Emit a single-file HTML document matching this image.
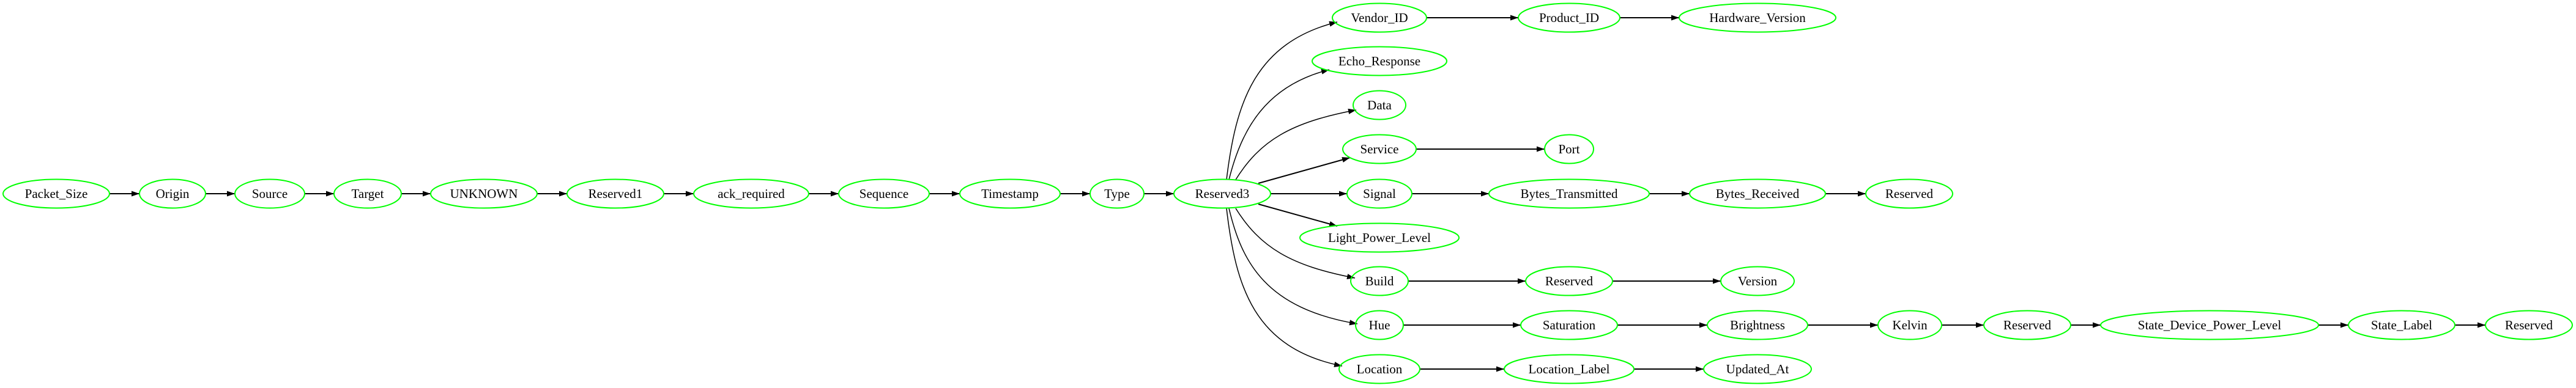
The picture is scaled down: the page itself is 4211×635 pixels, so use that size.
<!DOCTYPE html>
<html><head><meta charset="utf-8"><style>
html,body{margin:0;padding:0;background:#fff;}
svg{display:block;}
text{font-family:"Liberation Serif",serif;font-size:21px;fill:#000;text-anchor:middle;}
ellipse{fill:none;stroke:#00ff00;stroke-width:2;}
.e{fill:none;stroke:#000;stroke-width:2;}
.c{stroke-width:1.5;}
</style></head><body>
<svg width="4211" height="635" viewBox="0 0 4211 635" xmlns="http://www.w3.org/2000/svg">
<defs><marker id="a" viewBox="0 0 10 7" markerWidth="13" markerHeight="9.6" refX="10" refY="3.5" orient="auto" markerUnits="userSpaceOnUse"><path d="M0,0 L10,3.5 L0,7 z" fill="#000"/></marker></defs>
<g class="edges">
<path class="e" marker-end="url(#a)" d="M179,317H228"/>
<path class="e" marker-end="url(#a)" d="M336,317H384"/>
<path class="e" marker-end="url(#a)" d="M498,317H546"/>
<path class="e" marker-end="url(#a)" d="M656,317H704"/>
<path class="e" marker-end="url(#a)" d="M878,317H927"/>
<path class="e" marker-end="url(#a)" d="M1085,317H1134"/>
<path class="e" marker-end="url(#a)" d="M1322,317H1371"/>
<path class="e" marker-end="url(#a)" d="M1519,317H1569"/>
<path class="e" marker-end="url(#a)" d="M1733,317H1782"/>
<path class="e" marker-end="url(#a)" d="M1870,317H1919"/>
<path class="e" marker-end="url(#a)" d="M2077,317H2202"/>
<path class="e" marker-end="url(#a)" d="M2332,29H2482"/>
<path class="e" marker-end="url(#a)" d="M2648,29H2745"/>
<path class="e" marker-end="url(#a)" d="M2315,244H2525"/>
<path class="e" marker-end="url(#a)" d="M2308,317H2434"/>
<path class="e" marker-end="url(#a)" d="M2696,317H2762"/>
<path class="e" marker-end="url(#a)" d="M2984,317H3050"/>
<path class="e" marker-end="url(#a)" d="M2302,460H2494"/>
<path class="e" marker-end="url(#a)" d="M2636,460H2813"/>
<path class="e" marker-end="url(#a)" d="M2294,532H2486"/>
<path class="e" marker-end="url(#a)" d="M2644,532H2791"/>
<path class="e" marker-end="url(#a)" d="M2955,532H3070"/>
<path class="e" marker-end="url(#a)" d="M3174,532H3243"/>
<path class="e" marker-end="url(#a)" d="M3385,532H3434"/>
<path class="e" marker-end="url(#a)" d="M3790,532H3839"/>
<path class="e" marker-end="url(#a)" d="M4013,532H4063"/>
<path class="e" marker-end="url(#a)" d="M2321,604H2459"/>
<path class="e" marker-end="url(#a)" d="M2671,604H2785"/>
<path class="e c" marker-end="url(#a)" d="M2005,294 C2020,170 2050,70 2186,36"/>
<path class="e c" marker-end="url(#a)" d="M2009,294 C2030,210 2070,140 2173,114"/>
<path class="e c" marker-end="url(#a)" d="M2020,294 C2060,230 2110,200 2217,180"/>
<path class="e" marker-end="url(#a)" d="M2057,300 L2207,258"/>
<path class="e" marker-end="url(#a)" d="M2057,334 L2186,370"/>
<path class="e c" marker-end="url(#a)" d="M2020,341 C2060,405 2110,435 2215,455"/>
<path class="e c" marker-end="url(#a)" d="M2009,341 C2030,430 2070,505 2219,530"/>
<path class="e c" marker-end="url(#a)" d="M2005,341 C2020,470 2050,570 2194,599"/>
</g>
<g>
<ellipse cx="92" cy="317" rx="87" ry="23.5"/><text x="92" y="324">Packet_Size</text>
<ellipse cx="282" cy="317" rx="54" ry="23.5"/><text x="282" y="324">Origin</text>
<ellipse cx="441" cy="317" rx="57" ry="23.5"/><text x="441" y="324">Source</text>
<ellipse cx="601" cy="317" rx="55" ry="23.5"/><text x="601" y="324">Target</text>
<ellipse cx="791" cy="317" rx="87" ry="23.5"/><text x="791" y="324">UNKNOWN</text>
<ellipse cx="1006" cy="317" rx="79" ry="23.5"/><text x="1006" y="324">Reserved1</text>
<ellipse cx="1228" cy="317" rx="94" ry="23.5"/><text x="1228" y="324">ack_required</text>
<ellipse cx="1445" cy="317" rx="74" ry="23.5"/><text x="1445" y="324">Sequence</text>
<ellipse cx="1651" cy="317" rx="82" ry="23.5"/><text x="1651" y="324">Timestamp</text>
<ellipse cx="1826" cy="317" rx="44" ry="23.5"/><text x="1826" y="324">Type</text>
<ellipse cx="1998" cy="317" rx="79" ry="23.5"/><text x="1998" y="324">Reserved3</text>
<ellipse cx="2255" cy="29" rx="77" ry="23.5"/><text x="2255" y="36">Vendor_ID</text>
<ellipse cx="2255" cy="100" rx="110" ry="23.5"/><text x="2255" y="107">Echo_Response</text>
<ellipse cx="2255" cy="172" rx="43" ry="23.5"/><text x="2255" y="179">Data</text>
<ellipse cx="2255" cy="244" rx="60" ry="23.5"/><text x="2255" y="251">Service</text>
<ellipse cx="2255" cy="317" rx="53" ry="23.5"/><text x="2255" y="324">Signal</text>
<ellipse cx="2255" cy="389" rx="130" ry="23.5"/><text x="2255" y="396">Light_Power_Level</text>
<ellipse cx="2255" cy="460" rx="47" ry="23.5"/><text x="2255" y="467">Build</text>
<ellipse cx="2255" cy="532" rx="39" ry="23.5"/><text x="2255" y="539">Hue</text>
<ellipse cx="2255" cy="604" rx="66" ry="23.5"/><text x="2255" y="611">Location</text>
<ellipse cx="2565" cy="29" rx="83" ry="23.5"/><text x="2565" y="36">Product_ID</text>
<ellipse cx="2873" cy="29" rx="128" ry="23.5"/><text x="2873" y="36">Hardware_Version</text>
<ellipse cx="2565" cy="244" rx="40" ry="23.5"/><text x="2565" y="251">Port</text>
<ellipse cx="2565" cy="317" rx="131" ry="23.5"/><text x="2565" y="324">Bytes_Transmitted</text>
<ellipse cx="2873" cy="317" rx="111" ry="23.5"/><text x="2873" y="324">Bytes_Received</text>
<ellipse cx="3121" cy="317" rx="71" ry="23.5"/><text x="3121" y="324">Reserved</text>
<ellipse cx="2565" cy="460" rx="71" ry="23.5"/><text x="2565" y="467">Reserved</text>
<ellipse cx="2873" cy="460" rx="60" ry="23.5"/><text x="2873" y="467">Version</text>
<ellipse cx="2565" cy="532" rx="79" ry="23.5"/><text x="2565" y="539">Saturation</text>
<ellipse cx="2873" cy="532" rx="82" ry="23.5"/><text x="2873" y="539">Brightness</text>
<ellipse cx="3122" cy="532" rx="52" ry="23.5"/><text x="3122" y="539">Kelvin</text>
<ellipse cx="3314" cy="532" rx="71" ry="23.5"/><text x="3314" y="539">Reserved</text>
<ellipse cx="3612" cy="532" rx="178" ry="23.5"/><text x="3612" y="539">State_Device_Power_Level</text>
<ellipse cx="3926" cy="532" rx="87" ry="23.5"/><text x="3926" y="539">State_Label</text>
<ellipse cx="4134" cy="532" rx="71" ry="23.5"/><text x="4134" y="539">Reserved</text>
<ellipse cx="2565" cy="604" rx="106" ry="23.5"/><text x="2565" y="611">Location_Label</text>
<ellipse cx="2873" cy="604" rx="88" ry="23.5"/><text x="2873" y="611">Updated_At</text>
</g>
</svg>
</body></html>
